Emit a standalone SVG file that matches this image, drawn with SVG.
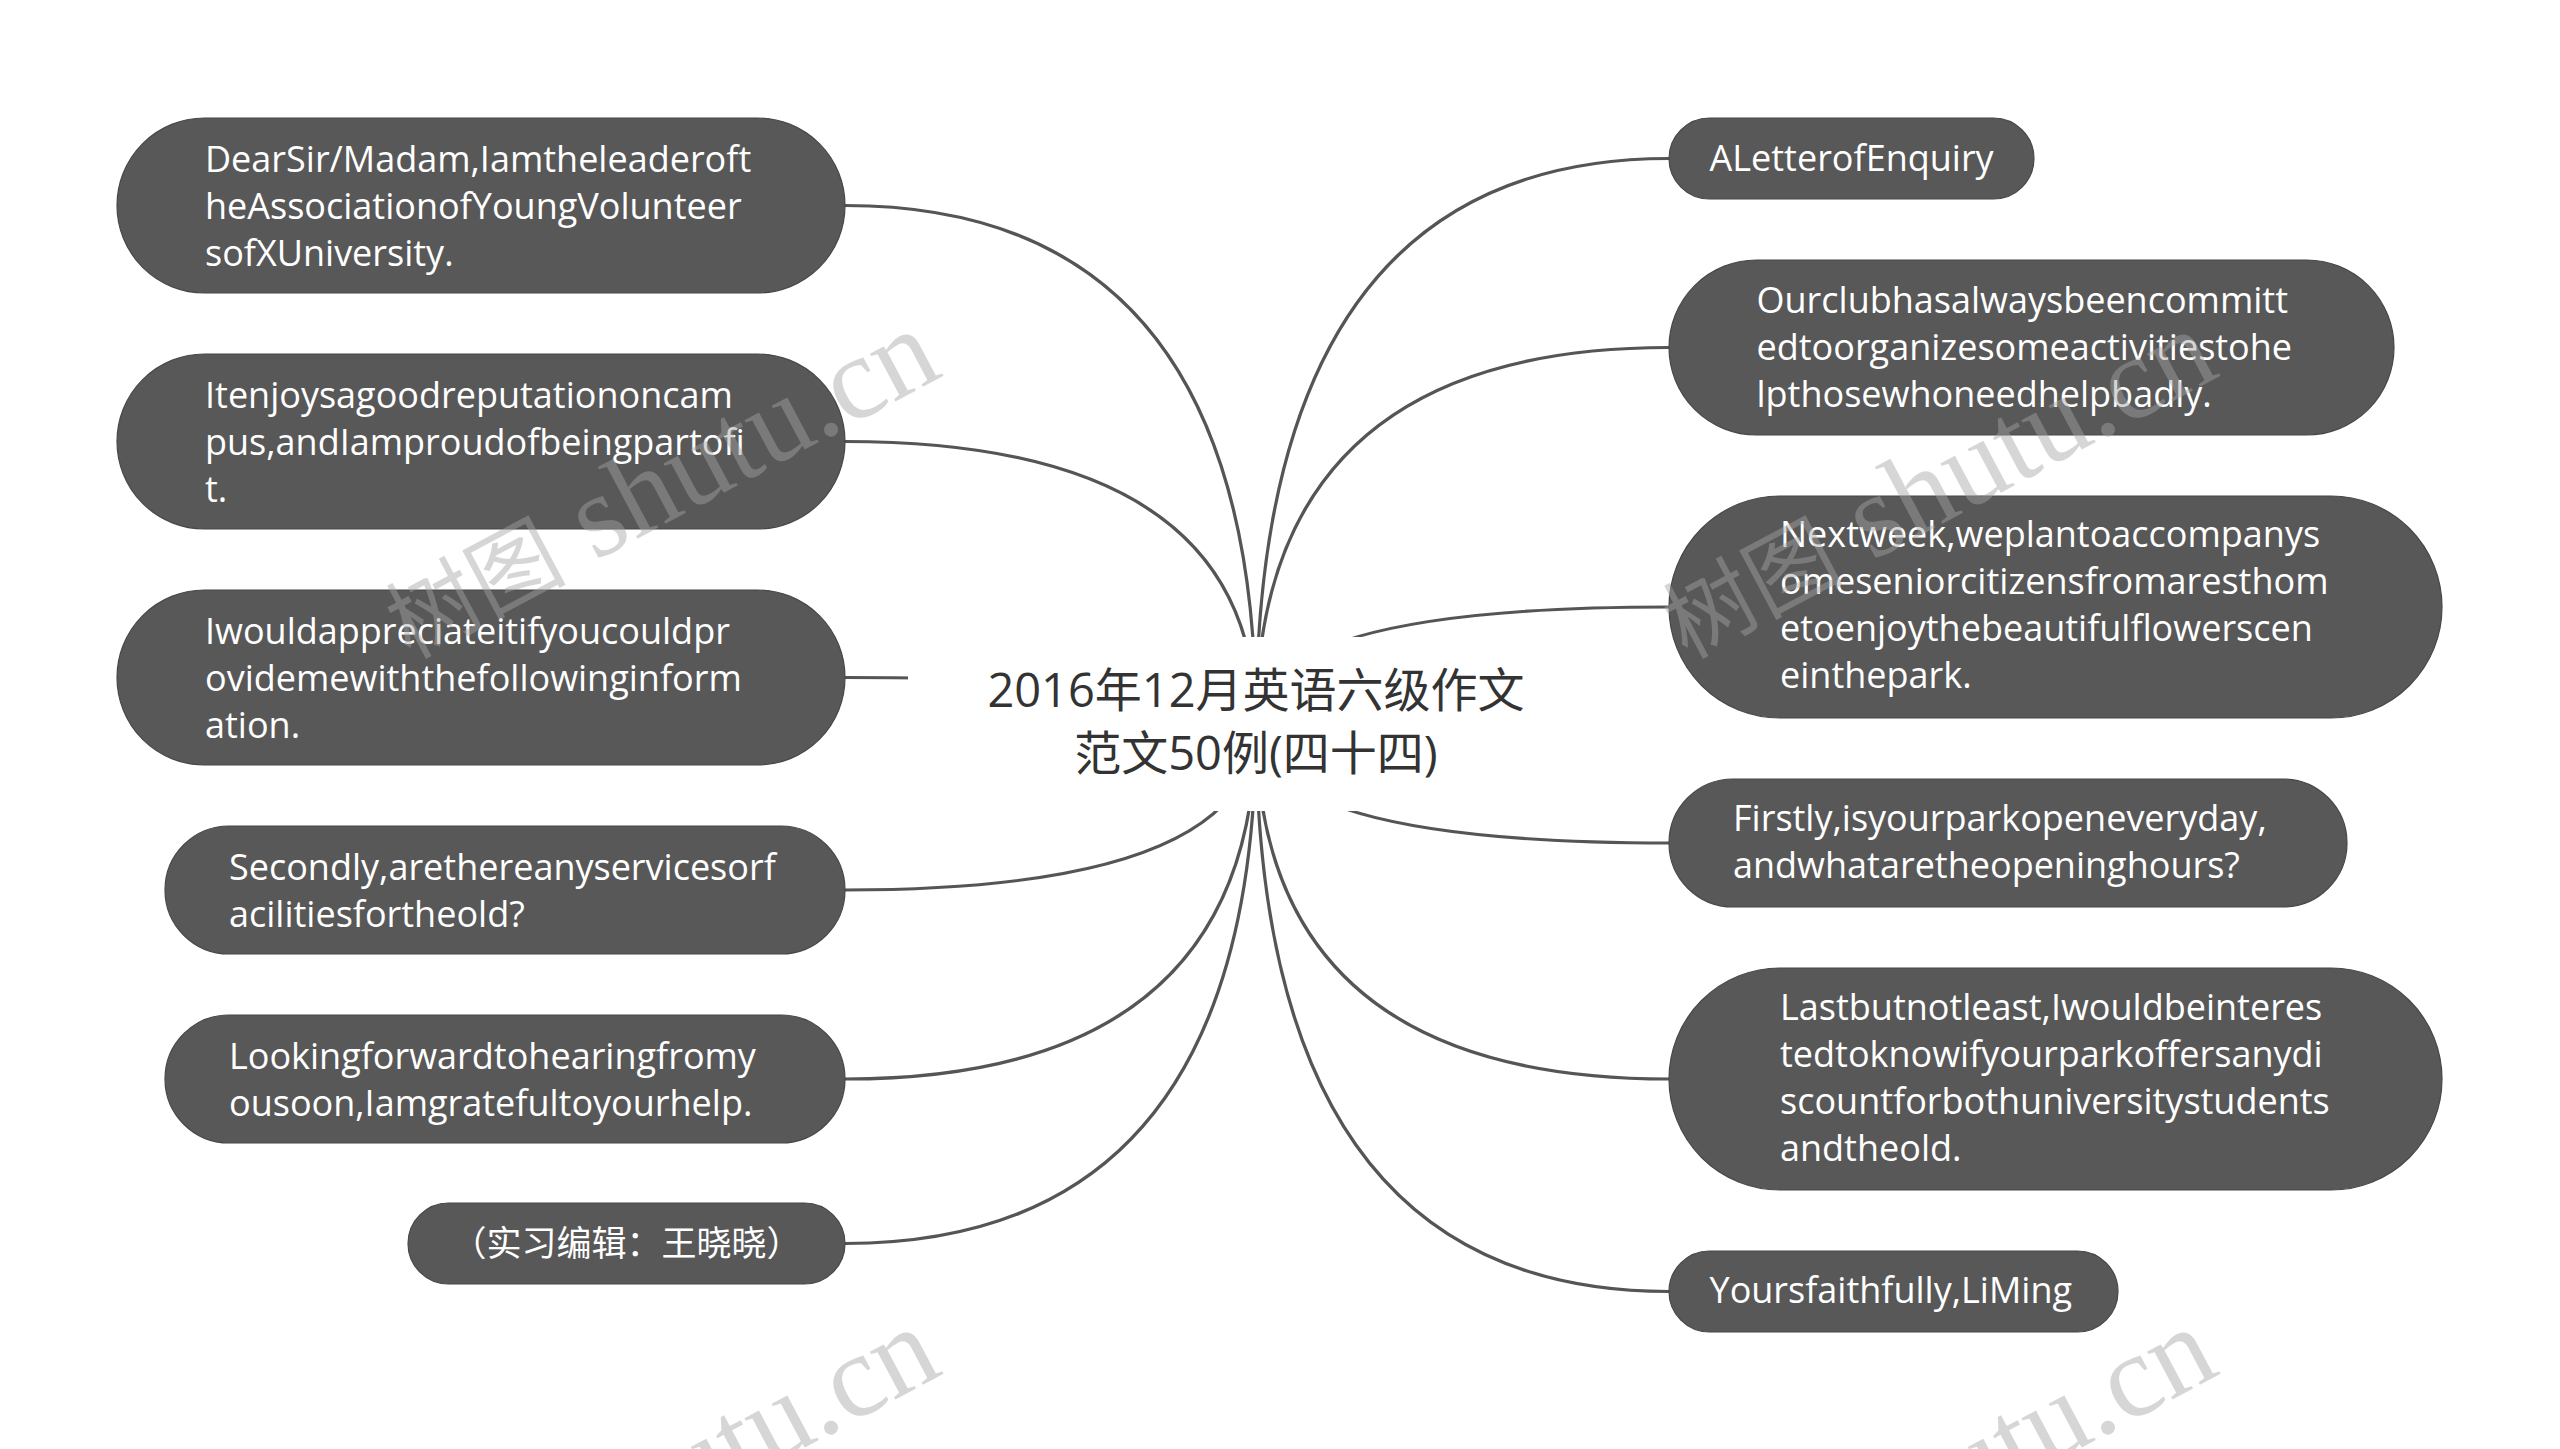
<svg xmlns="http://www.w3.org/2000/svg" width="2560" height="1449" viewBox="0 0 2560 1449">
<style>
.node rect{fill:#585858;stroke:#474747;stroke-width:1.2}
.node text{fill:#ffffff;font-family:"Open Sans","Noto Sans CJK SC",sans-serif;font-size:36px}
.edge{fill:none;stroke:#555555;stroke-width:3.2}
.title{fill:#333333;font-family:"Open Sans","Noto Sans CJK SC",sans-serif;font-size:47px;text-anchor:middle}
.wm{fill:#a5a5a5;fill-opacity:0.45;font-family:"Liberation Serif","Noto Sans CJK SC",serif;font-size:118px;text-anchor:end}
.wm .cjk{font-size:90px}
</style>
<rect x="0" y="0" width="2560" height="1449" fill="#ffffff"/>
<g id="connectors">
<path class="edge" d="M845,205.5 Q1256,205.5 1256,724"/>
<path class="edge" d="M845,441.5 Q1256,441.5 1256,724"/>
<path class="edge" d="M845,677.5 Q1256,677.5 1256,724"/>
<path class="edge" d="M845,890 Q1256,890 1256,724"/>
<path class="edge" d="M845,1079 Q1256,1079 1256,724"/>
<path class="edge" d="M845,1243.5 Q1256,1243.5 1256,724"/>
<path class="edge" d="M1669,158.5 Q1256,158.5 1256,724"/>
<path class="edge" d="M1669,347.5 Q1256,347.5 1256,724"/>
<path class="edge" d="M1669,607 Q1256,607 1256,724"/>
<path class="edge" d="M1669,843 Q1256,843 1256,724"/>
<path class="edge" d="M1669,1079 Q1256,1079 1256,724"/>
<path class="edge" d="M1669,1291.5 Q1256,1291.5 1256,724"/>
</g>
<g id="root">
<rect x="908" y="637" width="696" height="174" fill="#ffffff"/>
<text class="title" x="1256" y="707">2016年12月英语六级作文</text>
<text class="title" x="1256" y="770">范文50例(四十四)</text>
</g>
<g id="n-l1" class="node">
<rect x="117" y="118" width="728" height="175" rx="87.5"/>
<text x="205" y="171.5">DearSir/Madam,Iamtheleaderoft</text>
<text x="205" y="218.5">heAssociationofYoungVolunteer</text>
<text x="205" y="265.5">sofXUniversity.</text>
</g>
<g id="n-l2" class="node">
<rect x="117" y="354" width="728" height="175" rx="87.5"/>
<text x="205" y="407.5">Itenjoysagoodreputationoncam</text>
<text x="205" y="454.5">pus,andIamproudofbeingpartofi</text>
<text x="205" y="501.5">t.</text>
</g>
<g id="n-l3" class="node">
<rect x="117" y="590" width="728" height="175" rx="87.5"/>
<text x="205" y="643.5">Iwouldappreciateitifyoucouldpr</text>
<text x="205" y="690.5">ovidemewiththefollowinginform</text>
<text x="205" y="737.5">ation.</text>
</g>
<g id="n-l4" class="node">
<rect x="165" y="826" width="680" height="128" rx="64"/>
<text x="229" y="879.5">Secondly,arethereanyservicesorf</text>
<text x="229" y="926.5">acilitiesfortheold?</text>
</g>
<g id="n-l5" class="node">
<rect x="165" y="1015" width="680" height="128" rx="64"/>
<text x="229" y="1068.5">Lookingforwardtohearingfromy</text>
<text x="229" y="1115.5">ousoon,Iamgratefultoyourhelp.</text>
</g>
<g id="n-l6" class="node">
<rect x="408" y="1203" width="437" height="81" rx="40.5"/>
<text x="626.5" y="1256" text-anchor="middle" style="font-size:35px">（实习编辑：王晓晓）</text>
</g>
<g id="n-r1" class="node">
<rect x="1669" y="118" width="365" height="81" rx="40.5"/>
<text x="1709.5" y="171">ALetterofEnquiry</text>
</g>
<g id="n-r2" class="node">
<rect x="1669" y="260" width="725" height="175" rx="87.5"/>
<text x="1756.5" y="313">Ourclubhasalwaysbeencommitt</text>
<text x="1756.5" y="360">edtoorganizesomeactivitiestohe</text>
<text x="1756.5" y="407">lpthosewhoneedhelpbadly.</text>
</g>
<g id="n-r3" class="node">
<rect x="1669" y="496" width="773" height="222" rx="111"/>
<text x="1780" y="547">Nextweek,weplantoaccompanys</text>
<text x="1780" y="594">omeseniorcitizensfromaresthom</text>
<text x="1780" y="641">etoenjoythebeautifulflowerscen</text>
<text x="1780" y="688">einthepark.</text>
</g>
<g id="n-r4" class="node">
<rect x="1669" y="779" width="678" height="128" rx="64"/>
<text x="1733" y="831">Firstly,isyourparkopeneveryday,</text>
<text x="1733" y="878">andwhataretheopeninghours?</text>
</g>
<g id="n-r5" class="node">
<rect x="1669" y="968" width="773" height="222" rx="111"/>
<text x="1780" y="1020">Lastbutnotleast,Iwouldbeinteres</text>
<text x="1780" y="1067">tedtoknowifyourparkoffersanydi</text>
<text x="1780" y="1114">scountforbothuniversitystudents</text>
<text x="1780" y="1161">andtheold.</text>
</g>
<g id="n-r6" class="node">
<rect x="1669" y="1251" width="449" height="81" rx="40.5"/>
<text x="1709.5" y="1302.5">Yoursfaithfully,LiMing</text>
</g>
<g id="watermarks">
<text class="wm" transform="translate(945,375) rotate(-28)"><tspan class="cjk">树图</tspan> shutu.cn</text>
<text class="wm" transform="translate(2222,375) rotate(-28)"><tspan class="cjk">树图</tspan> shutu.cn</text>
<text class="wm" transform="translate(945,1373) rotate(-28)"><tspan class="cjk">树图</tspan> shutu.cn</text>
<text class="wm" transform="translate(2222,1373) rotate(-28)"><tspan class="cjk">树图</tspan> shutu.cn</text>
</g>
</svg>
